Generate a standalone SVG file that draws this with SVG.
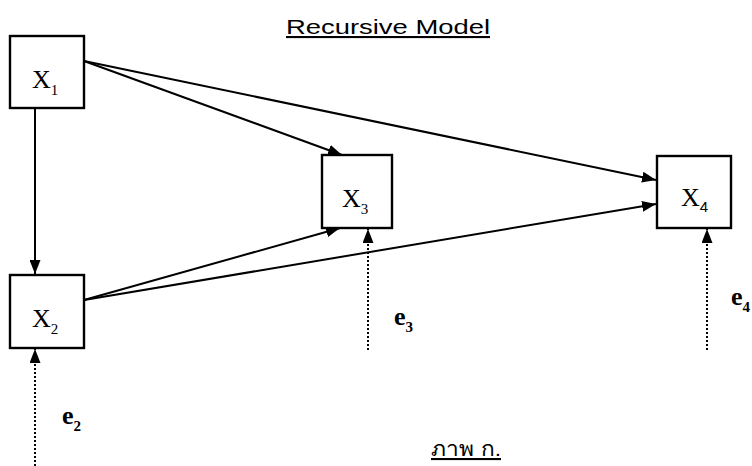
<svg xmlns="http://www.w3.org/2000/svg" width="752" height="466" viewBox="0 0 752 466">
<style>
.box{fill:#fff;stroke:#000;stroke-width:2.4}
.ln{fill:none;stroke:#000;stroke-width:2}
.dot{fill:none;stroke:#000;stroke-width:2;stroke-dasharray:2 2}
.x{font-family:"Liberation Serif",serif;font-size:26px;fill:#000}
.sub{font-size:15px}
.e{font-family:"Liberation Serif",serif;font-size:26px;font-weight:bold;fill:#000}
.t{font-family:"Liberation Sans",Arial,sans-serif;font-size:21px;fill:#000;text-decoration:underline}
</style>
<defs>
<marker id="ah" viewBox="0 0 14 11" refX="14" refY="5.5" markerWidth="14" markerHeight="11" markerUnits="userSpaceOnUse" orient="auto">
<path d="M0,0 L14,5.5 L0,11 z" fill="#000"/>
</marker>
</defs>
<rect width="752" height="466" fill="#fff"/>
<text class="t" x="388" y="34" text-anchor="middle" textLength="204" lengthAdjust="spacingAndGlyphs">Recursive Model</text>
<g id="connectors">
<line class="ln" x1="35" y1="108" x2="35" y2="274" marker-end="url(#ah)"/>
<line class="ln" x1="84" y1="61" x2="342" y2="155" marker-end="url(#ah)"/>
<line class="ln" x1="84" y1="61" x2="656" y2="180" marker-end="url(#ah)"/>
<line class="ln" x1="84" y1="300" x2="340" y2="228" marker-end="url(#ah)"/>
<line class="ln" x1="84" y1="300" x2="656" y2="204" marker-end="url(#ah)"/>
<line class="dot" x1="35" y1="466" x2="35" y2="349" marker-end="url(#ah)"/>
<line class="dot" x1="368" y1="350" x2="368" y2="229" marker-end="url(#ah)"/>
<line class="dot" x1="707" y1="350" x2="707" y2="229" marker-end="url(#ah)"/>
</g>
<g id="X1">
<rect class="box" x="10" y="36" width="74" height="72"/>
<text class="x" x="32" y="88">X<tspan class="sub" dy="7">1</tspan></text>
</g>
<g id="X2">
<rect class="box" x="10" y="275" width="74" height="73"/>
<text class="x" x="32" y="327">X<tspan class="sub" dy="7">2</tspan></text>
</g>
<g id="X3">
<rect class="box" x="322" y="155" width="70" height="73"/>
<text class="x" x="342" y="207">X<tspan class="sub" dy="7">3</tspan></text>
</g>
<g id="X4">
<rect class="box" x="657" y="156" width="74" height="72"/>
<text class="x" x="681" y="206">X<tspan class="sub" dy="6" font-family="Liberation Sans,sans-serif">4</tspan></text>
</g>
<g id="e2"><text class="e" x="62" y="424">e<tspan class="sub" dy="7">2</tspan></text></g>
<g id="e3"><text class="e" x="394" y="325">e<tspan class="sub" dy="7">3</tspan></text></g>
<g id="e4"><text class="e" x="731" y="305">e<tspan class="sub" dy="7">4</tspan></text></g>
<text class="t" x="466" y="456" text-anchor="middle" font-size="27px" textLength="70" lengthAdjust="spacingAndGlyphs" font-family="'Noto Sans Thai','Noto Sans',sans-serif">ภาพ ก.</text>
</svg>
